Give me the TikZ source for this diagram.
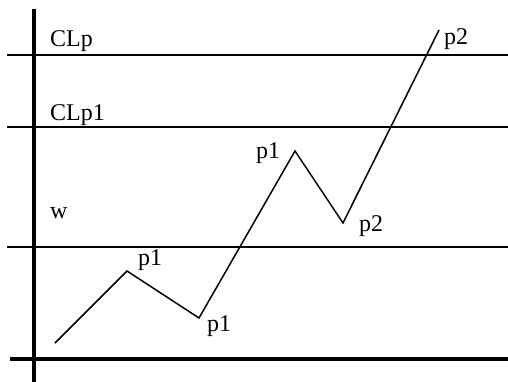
\documentclass[tikz,border=0pt]{standalone}
\usepackage{fontspec}
\setmainfont{Liberation Serif}
\begin{document}
\begin{tikzpicture}[x=1pt,y=-1pt,
  axis/.style={line width=3.5pt},
  level/.style={line width=1.5pt},
  trace/.style={line width=1.5pt,line join=miter},
  lbl/.style={anchor=base west,inner sep=0pt,font=\fontsize{24}{28}\selectfont}]
\useasboundingbox (0,0) rectangle (508,382);
% axes
\coordinate (ytop) at (34,9);
\coordinate (ybot) at (34,382);
\coordinate (xl) at (10,359);
\coordinate (xr) at (508,359);
\draw[axis] (ytop) -- (ybot);
\draw[axis] (xl) -- (xr);
% levels
\coordinate (a1) at (7,55);  \coordinate (a2) at (508,55);
\coordinate (b1) at (7,127); \coordinate (b2) at (508,127);
\coordinate (c1) at (7,247); \coordinate (c2) at (508,247);
\draw[level] (a1) -- (a2);
\draw[level] (b1) -- (b2);
\draw[level] (c1) -- (c2);
% trace
\coordinate (s) at (55,343);
\coordinate (q1) at (127,271);
\coordinate (q2) at (199,318);
\coordinate (q3) at (295,151);
\coordinate (q4) at (343,223);
\coordinate (q5) at (439,30);
\draw[trace] (s) -- (q1) -- (q2) -- (q3) -- (q4) -- (q5);
% labels
\node[lbl] (tclp) at (50,47) {CLp};
\node[lbl] (tclp1) at (50,121) {CLp1};
\node[lbl] (tw) at (50,218) {w};
\node[lbl] (tp1a) at (138,265) {p1};
\node[lbl] (tp1b) at (207,331) {p1};
\node[lbl] (tp1c) at (256,159) {p1};
\node[lbl] (tp2a) at (359,231) {p2};
\node[lbl] (tp2b) at (444,45) {p2};
\end{tikzpicture}
\end{document}
